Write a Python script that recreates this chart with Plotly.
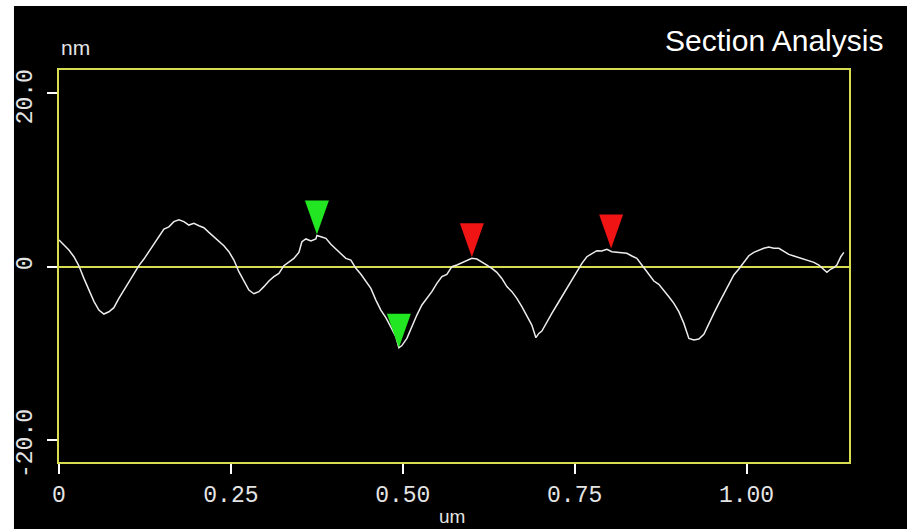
import plotly.graph_objects as go

# Section profile: lateral position (um) and height (nm)
pos_um = [
    0.0, 0.0071, 0.0144, 0.0217, 0.0289, 0.0362, 0.0435, 0.0508, 0.0580, 0.0653,
    0.0726, 0.0798, 0.0871, 0.0944, 0.1017, 0.1089, 0.1162, 0.1235, 0.1307, 0.1380,
    0.1453, 0.1526, 0.1598, 0.1671, 0.1744, 0.1816, 0.1889, 0.1962, 0.2035, 0.2107,
    0.2180, 0.2253, 0.2325, 0.2398, 0.2471, 0.2544, 0.2616, 0.2689, 0.2762, 0.2834,
    0.2907, 0.2980, 0.3053, 0.3125, 0.3198, 0.3271, 0.3343, 0.3416, 0.3489, 0.3533,
    0.3591, 0.3664, 0.3736, 0.3751, 0.3809, 0.3882, 0.3954, 0.4027, 0.4100, 0.4172,
    0.4245, 0.4318, 0.4391, 0.4463, 0.4536, 0.4609, 0.4681, 0.4754, 0.4827, 0.4900,
    0.4943, 0.4987, 0.5060, 0.5132, 0.5205, 0.5278, 0.5350, 0.5423, 0.5496, 0.5569,
    0.5641, 0.5714, 0.5787, 0.5860, 0.5932, 0.6005, 0.6078, 0.6150, 0.6223, 0.6296,
    0.6368, 0.6441, 0.6514, 0.6587, 0.6659, 0.6732, 0.6805, 0.6877, 0.6936, 0.6979,
    0.7023, 0.7096, 0.7168, 0.7241, 0.7314, 0.7386, 0.7459, 0.7532, 0.7605, 0.7677,
    0.7750, 0.7823, 0.7895, 0.7968, 0.8041, 0.8114, 0.8186, 0.8259, 0.8332, 0.8404,
    0.8477, 0.8506, 0.8579, 0.8652, 0.8724, 0.8797, 0.8870, 0.8943, 0.9015, 0.9088,
    0.9161, 0.9233, 0.9306, 0.9379, 0.9452, 0.9524, 0.9597, 0.9670, 0.9742, 0.9815,
    0.9888, 0.9961, 1.0033, 1.0106, 1.0179, 1.0251, 1.0324, 1.0397, 1.0470, 1.0542,
    1.0615, 1.0688, 1.0761, 1.0833, 1.0906, 1.0979, 1.1051, 1.1124, 1.1168, 1.1226,
    1.1270, 1.1313, 1.1371, 1.1415,
]
height_nm = [
    3.08, 2.5, 1.92, 1.15, 0.1, -1.35, -2.7, -4.0, -5.0, -5.46,
    -5.2, -4.73, -3.65, -2.7, -1.73, -0.77, 0.12, 0.88, 1.73, 2.7,
    3.46, 4.35, 4.6, 5.2, 5.42, 5.2, 4.8, 5.0, 4.73, 4.5,
    3.96, 3.46, 2.96, 2.42, 1.73, 0.77, -0.58, -1.65, -2.7, -3.12,
    -2.88, -2.3, -1.65, -1.15, -0.77, 0.12, 0.58, 0.96, 1.65, 2.88,
    3.2, 2.96, 3.2, 3.6, 3.46, 3.27, 2.58, 2.04, 1.54, 0.96,
    0.77, -0.19, -0.88, -1.65, -2.5, -3.85, -5.0, -5.88, -6.9, -8.08,
    -9.35, -9.1, -8.27, -6.92, -5.58, -4.42, -3.65, -2.88, -1.92, -1.15,
    -0.88, 0.0, 0.19, 0.46, 0.77, 0.96, 0.88, 0.58, 0.19, -0.19,
    -0.65, -1.35, -2.3, -2.88, -3.65, -4.62, -5.77, -6.73, -8.19, -7.7,
    -7.42, -6.35, -5.38, -4.42, -3.46, -2.5, -1.54, -0.58, 0.38, 1.15,
    1.54, 1.85, 1.81, 2.0, 1.73, 1.65, 1.65, 1.54, 1.23, 0.96,
    0.2, -0.12, -0.96, -1.65, -2.04, -2.7, -3.46, -4.23, -5.19, -6.54,
    -8.27, -8.46, -8.35, -7.81, -6.54, -5.38, -4.23, -3.08, -1.92, -0.96,
    -0.27, 0.58, 1.27, 1.65, 1.92, 2.12, 2.27, 2.12, 2.12, 1.73,
    1.42, 1.23, 1.04, 0.88, 0.65, 0.5, 0.19, -0.27, -0.65, -0.27,
    -0.12, 0.19, 1.15, 1.65,
]

# Measurement cursors (tip position on the profile)
cursor_x = [0.3751, 0.4943, 0.6005, 0.803]
cursor_y = [3.7, -9.35, 1.1, 2.1]
cursor_color = ["#22e622", "#22e622", "#f01414", "#f01414"]

x_tickvals = [0, 0.25, 0.50, 0.75, 1.00]
x_ticktext = ["0", "0.25", "0.50", "0.75", "1.00"]
y_tickvals = [-20, 0, 20]
# non-breaking space keeps the rotated labels sitting just below their ticks
y_ticktext = ["-20.0\u00a0", "0", "20.0\u00a0"]

FRAME = "#d8dc50"
LABEL = "#e4e4e4"
MONO = "Liberation Mono"
SANS = "Liberation Sans"

fig = go.Figure()
fig.add_trace(go.Scatter(
    x=pos_um, y=height_nm, mode="lines",
    line=dict(color="#ececec", width=1.5),
    hoverinfo="skip", showlegend=False,
))

shapes = [
    # dark panel (leaves a thin white border top and left)
    dict(type="rect", xref="paper", yref="paper", layer="below",
         x0=-0.057, x1=1.2, y0=-0.3, y1=1.1633,
         fillcolor="black", line=dict(width=0)),
]
for cx, cy, col in zip(cursor_x, cursor_y, cursor_color):
    shapes.append(dict(
        type="path", xref="x", yref="y",
        xsizemode="pixel", ysizemode="pixel",
        xanchor=cx, yanchor=cy,
        path="M -12,34 L 12,34 L 0,0 Z",
        fillcolor=col, line=dict(width=0),
    ))

annotations = [
    dict(text="Section Analysis", xref="paper", yref="paper",
         x=1.0456, y=1.0765, xanchor="right", yanchor="middle",
         showarrow=False, font=dict(family=SANS, size=30, color="white")),
    dict(text="nm", xref="paper", yref="paper",
         x=0.0, y=1.058, xanchor="left", yanchor="middle",
         showarrow=False, font=dict(family=SANS, size=21, color=LABEL)),
    dict(text="um", xref="paper", yref="paper",
         x=(452 - 59) / 790, y=-0.14, xanchor="center", yanchor="middle",
         showarrow=False, font=dict(family=SANS, size=19, color=LABEL)),
]

fig.update_layout(
    width=907, height=529,
    margin=dict(l=59, r=58, t=70, b=67),
    paper_bgcolor="white", plot_bgcolor="black",
    shapes=shapes, annotations=annotations,
    showlegend=False,
)
fig.update_xaxes(
    range=[0, 1.149], tickvals=x_tickvals, ticktext=x_ticktext,
    showgrid=False, zeroline=False,
    showline=True, linecolor=FRAME, linewidth=2, mirror=True,
    ticks="outside", ticklen=10, tickwidth=1.5, tickcolor="white",
    tickfont=dict(family=MONO, size=23, color=LABEL),
)
fig.update_yaxes(
    range=[-22.53, 22.69], tickvals=y_tickvals, ticktext=y_ticktext,
    showgrid=False, zeroline=True, zerolinecolor=FRAME, zerolinewidth=2,
    showline=True, linecolor=FRAME, linewidth=2, mirror=True,
    ticks="outside", ticklen=10, tickwidth=1.5, tickcolor="white",
    tickangle=-90, ticklabelstandoff=6,
    tickfont=dict(family=MONO, size=23, color=LABEL),
)

fig.write_html("out.html")
